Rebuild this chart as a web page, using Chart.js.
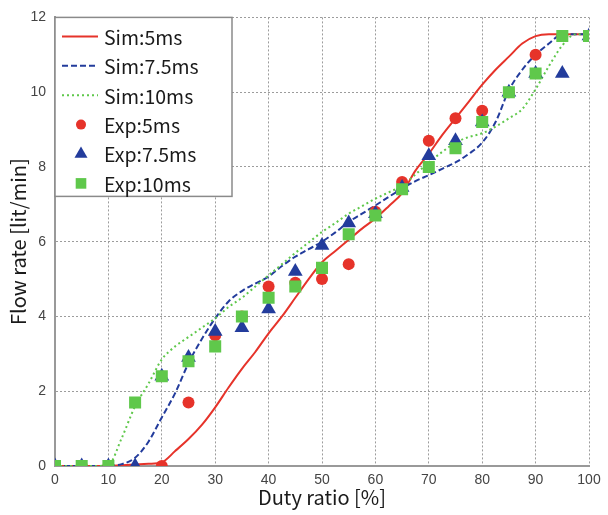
<!DOCTYPE html>
<html lang="en">
<head>
<meta charset="UTF-8" />
<title>Flow rate vs duty ratio</title>
<script src="https://cdn.jsdelivr.net/npm/chart.js"></script>
<style>
  html, body { margin: 0; padding: 0; background: #fff; }
</style>
</head>
<body>
<canvas id="flowChart" width="608" height="515"></canvas>

<script>
  // duty ratio grid for the simulated curves
  const simX = [0, 2.5, 5, 7.5, 10, 12.5, 15, 17.5, 20, 22.5, 25, 27.5, 30, 32.5, 35, 37.5, 40,
                42.5, 45, 47.5, 50, 52.5, 55, 57.5, 60, 62.5, 65, 67.5, 70, 72.5, 75, 77.5, 80,
                82.5, 85, 87.5, 90, 92.5, 95, 97.5, 100];
  const sim5 = [0, 0, 0, 0, 0, 0.02, 0.04, 0.06, 0.1, 0.4, 0.72, 1.1, 1.57, 2.1, 2.6, 3.05, 3.55,
                4.0, 4.5, 5.0, 5.45, 5.75, 6.05, 6.35, 6.62, 6.95, 7.3, 7.9, 8.35, 8.85, 9.3, 9.75, 10.2,
                10.6, 10.95, 11.3, 11.5, 11.55, 11.55, 11.55, 11.55];
  const sim75 = [0, 0, 0, 0, 0, 0.05, 0.22, 0.65, 1.3, 1.95, 2.75, 3.4, 3.95, 4.4, 4.68, 4.88, 5.07,
                 5.35, 5.6, 5.8, 6.0, 6.25, 6.53, 6.75, 6.97, 7.2, 7.42, 7.62, 7.78, 7.95, 8.12, 8.35, 8.65,
                 9.2, 10.05, 10.6, 11.0, 11.3, 11.55, 11.55, 11.55];
  const sim10 = [0, 0, 0, 0, 0.03, 0.75, 1.6, 2.2, 2.85, 3.2, 3.45, 3.7, 3.95, 4.25, 4.5, 4.8, 5.1,
                 5.4, 5.7, 5.98, 6.26, 6.5, 6.75, 6.95, 7.15, 7.32, 7.5, 7.8, 8.12, 8.4, 8.65, 8.8, 8.9,
                 9.08, 9.3, 9.55, 10.08, 10.7, 11.25, 11.55, 11.55];

  // measured points
  const expX  = [0, 5, 10, 15, 20, 25, 30, 35, 40, 45, 50, 55, 60, 65, 70, 75, 80, 85, 90, 95, 100];
  const exp5  = [0, 0, 0, null, 0, 1.7, 3.5, 4.0, 4.8, 4.9, 5.0, 5.4, 6.8, 7.6, 8.7, 9.3, 9.5, 10.0, 11.0, 11.5, 11.5];
  const exp75 = [0, 0, 0, 0, 2.4, 2.9, 3.6, 3.7, 4.2, 5.2, 5.9, 6.5, 6.75, 7.45, 8.3, 8.7, 9.2, 10.0, 10.5, 10.5, 11.5];
  const exp10 = [0, 0, 0, 1.7, 2.4, 2.8, 3.2, 4.0, 4.5, 4.8, 5.3, 6.2, 6.7, 7.4, 8.0, 8.5, 9.2, 10.0, 10.5, 11.5, 11.5];

  const xTicks = [0, 10, 20, 30, 40, 50, 60, 70, 80, 90, 100];
  const yTicks = [0, 2, 4, 6, 8, 10, 12];

  const RED = '#e6332a', BLUE = '#233c9c', GREEN = '#5fc84b';

  const pairs = (xs, ys) => xs.map((x, i) => ({ x: x, y: ys[i] }));

  function simLine(label, ys, color, dash, order) {
    return {
      label: label, data: pairs(simX, ys), borderColor: color, backgroundColor: color,
      borderWidth: 2, borderDash: dash, pointRadius: 0, showLine: true,
      cubicInterpolationMode: 'monotone', order: order
    };
  }
  function expPoints(label, ys, color, style, r, order) {
    return {
      label: label, data: pairs(expX, ys), borderColor: color, backgroundColor: color,
      pointStyle: style, pointRadius: r, pointBorderWidth: 0, showLine: false, order: order
    };
  }

  // legend drawn inside the plot, top-left, with a frame
  const boxLegend = {
    id: 'boxLegend',
    afterDatasetsDraw(chart) {
      const { ctx, chartArea } = chart;
      const x0 = chartArea.left, y0 = chartArea.top;
      ctx.save();
      ctx.fillStyle = '#fff';
      ctx.fillRect(x0, y0, 177, 179);
      ctx.strokeStyle = '#8a8a8a';
      ctx.lineWidth = 1.5;
      ctx.strokeRect(x0, y0, 177, 179);
      ctx.font = '19.5px "Noto Sans CJK JP", "Noto Sans", sans-serif';
      ctx.textBaseline = 'middle';
      chart.data.datasets.forEach((ds, i) => {
        const cy = y0 + 19 + i * 29.4;
        ctx.strokeStyle = ds.borderColor;
        ctx.fillStyle = ds.backgroundColor;
        if (ds.pointRadius === 0) {
          ctx.lineWidth = 2;
          ctx.setLineDash(ds.borderDash || []);
          ctx.beginPath();
          ctx.moveTo(x0 + 7, cy);
          ctx.lineTo(x0 + 43, cy);
          ctx.stroke();
          ctx.setLineDash([]);
        } else {
          Chart.helpers.drawPoint(ctx, { pointStyle: ds.pointStyle, radius: ds.pointRadius - 1, borderWidth: 0 }, x0 + 26, cy);
        }
        ctx.fillStyle = '#1a1a1a';
        ctx.fillText(ds.label, x0 + 49, cy + 1);
      });
      ctx.restore();
    }
  };

  const tickFont = { family: '"Liberation Sans", Arial, sans-serif', size: 14 };
  const titleFont = { family: '"Noto Sans CJK JP", "Noto Sans", sans-serif', size: 20 };

  new Chart(document.getElementById('flowChart'), {
    type: 'scatter',
    data: {
      datasets: [
        simLine('Sim:5ms', sim5, RED, [], 10),
        simLine('Sim:7.5ms', sim75, BLUE, [6, 3], 9),
        simLine('Sim:10ms', sim10, GREEN, [2, 3], 8),
        expPoints('Exp:5ms', exp5, RED, 'circle', 6, 3),
        expPoints('Exp:7.5ms', exp75, BLUE, 'triangle', 8.5, 2),
        expPoints('Exp:10ms', exp10, GREEN, 'rect', 8.5, 1)
      ]
    },
    options: {
      responsive: false,
      animation: false,
      layout: { padding: { top: 14, right: 19, left: 0, bottom: 0 } },
      plugins: { legend: { display: false }, tooltip: { enabled: false } },
      scales: {
        x: {
          type: 'linear', min: 0, max: 100,
          afterBuildTicks: (s) => { s.ticks = xTicks.map(v => ({ value: v })); },
          afterFit: (s) => { s.height = 49; },
          ticks: { font: tickFont, color: '#444', padding: 6, maxRotation: 0 },
          grid: { color: '#9c9c9c', lineWidth: 1, drawTicks: false },
          border: { color: '#999', width: 2, dash: [2, 2] },
          title: { display: true, text: 'Duty ratio [%]', font: titleFont, color: '#1a1a1a', padding: { top: 0, bottom: 6 } }
        },
        y: {
          type: 'linear', min: 0, max: 12,
          afterBuildTicks: (s) => { s.ticks = yTicks.map(v => ({ value: v })); },
          afterFit: (s) => { s.width = 55; },
          ticks: { font: tickFont, color: '#444', padding: 9 },
          grid: { color: '#9c9c9c', lineWidth: 1, drawTicks: false },
          border: { color: '#999', width: 2, dash: [2, 2] },
          title: { display: true, text: 'Flow rate [lit/min]', font: titleFont, color: '#1a1a1a', padding: { top: 6, bottom: 0 } }
        }
      }
    },
    plugins: [boxLegend]
  });
</script>
</body>
</html>
